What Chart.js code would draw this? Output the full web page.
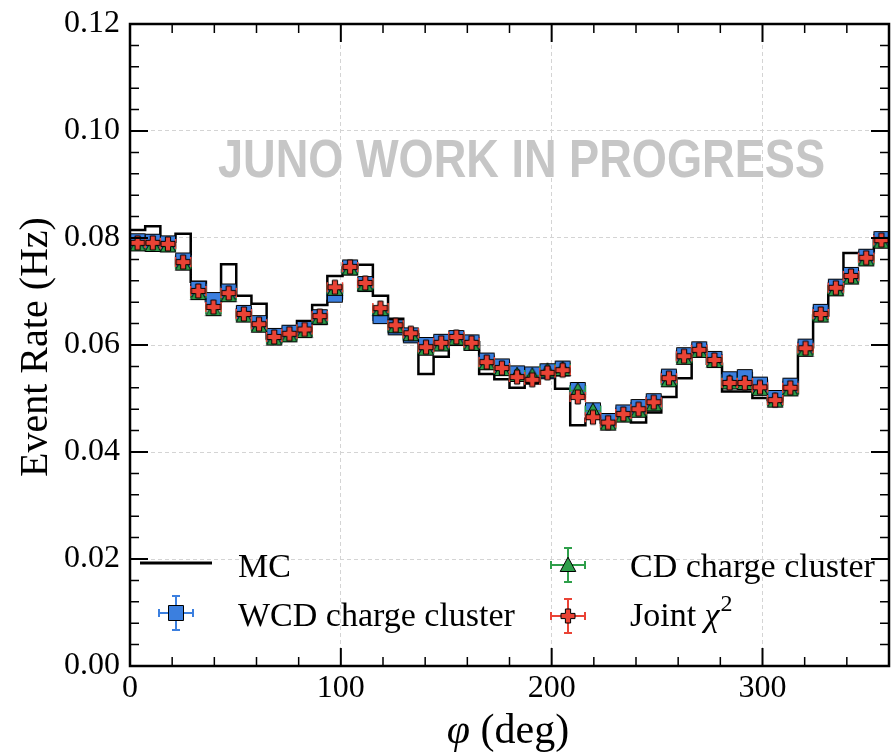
<!DOCTYPE html>
<html>
<head>
<meta charset="utf-8">
<script src="https://cdn.jsdelivr.net/npm/chart.js@4.4.1/dist/chart.umd.min.js"></script>
<style>
  html, body { margin: 0; padding: 0; background: #fff; }
  #rate { display: block; }
</style>
</head>
<body>
<canvas id="rate" width="891" height="753"></canvas>
<script>
// 50 phi bins of 7.2 deg over the full turn
const binWidth = 7.2;
const phiRange = [0, 360];
const rateRange = [0, 0.12];
const xTickStep = 100;
const yTickStep = 0.02;

// MC expectation per bin (step histogram)
const mcRate = [
  0.0815, 0.0822, 0.0793, 0.0808, 0.0718, 0.0682, 0.0751, 0.0692, 0.0677, 0.0612,
  0.0626, 0.0645, 0.0675, 0.0729, 0.0745, 0.0750, 0.0692, 0.0649, 0.0620, 0.0546,
  0.0578, 0.0610, 0.0605, 0.0546, 0.0536, 0.0520, 0.0528, 0.0544, 0.0518, 0.0450,
  0.0462, 0.0455, 0.0463, 0.0455, 0.0474, 0.0503, 0.0538, 0.0590, 0.0565, 0.0513,
  0.0513, 0.0501, 0.0497, 0.0510, 0.0596, 0.0655, 0.0710, 0.0772, 0.0772, 0.0797
];

// reconstructed rates
const wcdRate = [
  0.0794, 0.0793, 0.0790, 0.0758, 0.0705, 0.0684, 0.0700, 0.0660, 0.0641, 0.0617,
  0.0623, 0.0630, 0.0652, 0.0694, 0.0745, 0.0714, 0.0654, 0.0633, 0.0618, 0.0600,
  0.0606, 0.0613, 0.0605, 0.0571, 0.0560, 0.0547, 0.0545, 0.0551, 0.0556, 0.0516,
  0.0478, 0.0458, 0.0474, 0.0484, 0.0495, 0.0541, 0.0581, 0.0592, 0.0574, 0.0536,
  0.0540, 0.0526, 0.0501, 0.0524, 0.0597, 0.0662, 0.0709, 0.0731, 0.0765, 0.0798
];
const cdRate = [
  0.0788, 0.0787, 0.0786, 0.0752, 0.0697, 0.0667, 0.0693, 0.0655, 0.0636, 0.0612,
  0.0618, 0.0626, 0.0651, 0.0705, 0.0743, 0.0713, 0.0667, 0.0635, 0.0620, 0.0593,
  0.0601, 0.0612, 0.0602, 0.0566, 0.0555, 0.0544, 0.0543, 0.0552, 0.0555, 0.0515,
  0.0477, 0.0453, 0.0468, 0.0477, 0.0489, 0.0534, 0.0576, 0.0589, 0.0570, 0.0530,
  0.0529, 0.0518, 0.0496, 0.0517, 0.0591, 0.0655, 0.0704, 0.0726, 0.0760, 0.0793
];
const jointRate = [
  0.0791, 0.0791, 0.0789, 0.0755, 0.0701, 0.0671, 0.0697, 0.0658, 0.0639, 0.0615,
  0.0621, 0.0629, 0.0654, 0.0708, 0.0746, 0.0716, 0.0669, 0.0637, 0.0622, 0.0596,
  0.0604, 0.0615, 0.0604, 0.0568, 0.0557, 0.0540, 0.0535, 0.0548, 0.0553, 0.0503,
  0.0465, 0.0455, 0.0471, 0.0480, 0.0493, 0.0538, 0.0579, 0.0591, 0.0572, 0.0529,
  0.0529, 0.0521, 0.0497, 0.0520, 0.0594, 0.0658, 0.0707, 0.0729, 0.0763, 0.0796
];

const BLUE = '#3b7fdf';
const GREEN = '#2e9f4a';
const RED = '#ea4335';
const SERIF = '"Liberation Serif", "DejaVu Serif", serif';

// plot frame in canvas pixels
const AREA = { left: 130, right: 889, top: 24, bottom: 666 };

// bin edges and centres
const phiEdges = mcRate.map((_, i) => i * binWidth).concat([phiRange[1]]);
const phiCenters = mcRate.map((_, i) => (i + 0.5) * binWidth);

function toPoints(values) {
  return values.map((v, i) => ({ x: phiCenters[i], y: v }));
}

// small canvases used as point styles
function makeMarker(shape, fill) {
  const s = 18;
  const c = document.createElement('canvas');
  c.width = s; c.height = s;
  const g = c.getContext('2d');
  g.fillStyle = fill;
  g.strokeStyle = '#000';
  g.lineWidth = 1;
  g.lineJoin = 'miter';
  g.beginPath();
  if (shape === 'square') {
    g.rect(1.5, 1.5, 15, 15);
  } else if (shape === 'triangle') {
    g.moveTo(9, 1.2);
    g.lineTo(16.8, 15.5);
    g.lineTo(1.2, 15.5);
    g.closePath();
  } else {
    // filled plus
    const b = 7, w = 2.6, cx = 9, cy = 9;
    g.moveTo(cx - w, cy - b);
    g.lineTo(cx + w, cy - b);
    g.lineTo(cx + w, cy - w);
    g.lineTo(cx + b, cy - w);
    g.lineTo(cx + b, cy + w);
    g.lineTo(cx + w, cy + w);
    g.lineTo(cx + w, cy + b);
    g.lineTo(cx - w, cy + b);
    g.lineTo(cx - w, cy + w);
    g.lineTo(cx - b, cy + w);
    g.lineTo(cx - b, cy - w);
    g.lineTo(cx - w, cy - w);
    g.closePath();
  }
  g.fill();
  g.stroke();
  return c;
}

const squareMark = makeMarker('square', BLUE);
const triMark = makeMarker('triangle', GREEN);
const plusMark = makeMarker('plus', RED);

function markerSeries(label, values, color, mark, order) {
  return {
    label: label,
    data: toPoints(values),
    showLine: false,
    pointStyle: mark,
    pointRadius: 8,
    errColor: color,
    xErr: binWidth / 2,
    order: order
  };
}

// pin the plot frame after chart.js has laid out its boxes
const pinArea = {
  id: 'pinArea',
  afterLayout(chart) {
    const a = chart.chartArea;
    Object.assign(a, AREA);
    a.width = AREA.right - AREA.left;
    a.height = AREA.bottom - AREA.top;
    const { x, y } = chart.scales;
    x.left = AREA.left; x.right = AREA.right; x.width = a.width;
    x.top = AREA.bottom;
    y.top = AREA.top; y.bottom = AREA.bottom; y.height = a.height;
    x.configure();
    y.configure();
  }
};

// x error bars with caps, drawn just under each series' markers
const errorBars = {
  id: 'errorBars',
  beforeDatasetDraw(chart, args) {
    const ds = chart.data.datasets[args.index];
    if (!ds.xErr) return;
    const { ctx, scales: { x, y } } = chart;
    ctx.save();
    ctx.strokeStyle = ds.errColor;
    ctx.lineWidth = 1.5;
    ds.data.forEach(p => {
      const x0 = x.getPixelForValue(p.x - ds.xErr);
      const x1 = x.getPixelForValue(p.x + ds.xErr);
      const py = y.getPixelForValue(p.y);
      ctx.beginPath();
      ctx.moveTo(x0, py); ctx.lineTo(x1, py);
      ctx.moveTo(x0, py - 5); ctx.lineTo(x0, py + 5);
      ctx.moveTo(x1, py - 5); ctx.lineTo(x1, py + 5);
      ctx.stroke();
    });
    ctx.restore();
  }
};

const watermark = {
  id: 'watermark',
  beforeDatasetsDraw(chart) {
    const ctx = chart.ctx;
    const text = 'JUNO WORK IN PROGRESS';
    ctx.save();
    ctx.font = 'bold 54px "Liberation Sans", Arial, sans-serif';
    const w = ctx.measureText(text).width;
    ctx.translate(521.5, 177);
    ctx.scale(607 / w, 1);
    ctx.fillStyle = '#c6c6c6';
    ctx.textAlign = 'center';
    ctx.textBaseline = 'alphabetic';
    ctx.fillText(text, 0, 0);
    ctx.restore();
  }
};

// frame, inward ticks on all four sides, axis titles and the legend
const decorations = {
  id: 'decorations',
  afterDraw(chart) {
    const { ctx, chartArea: a, scales: { x, y } } = chart;
    ctx.save();
    ctx.strokeStyle = '#000';

    for (let i = 0; i <= 30; i++) {
      const py = y.getPixelForValue(i * 0.004);
      const major = i % 5 === 0;
      const len = major ? 18 : 9;
      ctx.lineWidth = major ? 2 : 1.5;
      ctx.beginPath();
      ctx.moveTo(a.left, py); ctx.lineTo(a.left + len, py);
      ctx.moveTo(a.right, py); ctx.lineTo(a.right - len, py);
      ctx.stroke();
    }
    for (let i = 0; i <= 18; i++) {
      const v = i * 20;
      const px = x.getPixelForValue(v);
      const major = v % xTickStep === 0;
      const len = major ? 18 : 9;
      ctx.lineWidth = major ? 2 : 1.5;
      ctx.beginPath();
      ctx.moveTo(px, a.bottom); ctx.lineTo(px, a.bottom - len);
      ctx.moveTo(px, a.top); ctx.lineTo(px, a.top + len);
      ctx.stroke();
    }
    ctx.lineWidth = 2.5;
    ctx.strokeRect(a.left, a.top, a.right - a.left, a.bottom - a.top);

    ctx.fillStyle = '#000';
    // y title
    ctx.save();
    ctx.translate(47, 347);
    ctx.rotate(-Math.PI / 2);
    ctx.font = '40px ' + SERIF;
    ctx.textAlign = 'center';
    ctx.textBaseline = 'alphabetic';
    ctx.fillText('Event Rate (Hz)', 0, 0);
    ctx.restore();

    // x title: italic phi followed by upright unit
    ctx.textBaseline = 'alphabetic';
    ctx.textAlign = 'left';
    const phiFont = 'italic 42px ' + SERIF;
    const unitFont = '42px ' + SERIF;
    ctx.font = phiFont;
    const wPhi = ctx.measureText('\u03c6').width;
    ctx.font = unitFont;
    const wUnit = ctx.measureText(' (deg)').width;
    const tx = 508 - (wPhi + wUnit) / 2;
    ctx.font = phiFont;
    ctx.fillText('\u03c6', tx, 743);
    ctx.font = unitFont;
    ctx.fillText(' (deg)', tx + wPhi, 743);

    // legend
    ctx.lineWidth = 3;
    ctx.beginPath();
    ctx.moveTo(140, 563); ctx.lineTo(212, 563);
    ctx.stroke();

    const legendMark = (cx, cy, color, mark) => {
      ctx.strokeStyle = color;
      ctx.lineWidth = 2;
      ctx.beginPath();
      ctx.moveTo(cx - 17, cy); ctx.lineTo(cx + 17, cy);
      ctx.moveTo(cx, cy - 17); ctx.lineTo(cx, cy + 17);
      ctx.moveTo(cx - 17, cy - 4); ctx.lineTo(cx - 17, cy + 4);
      ctx.moveTo(cx + 17, cy - 4); ctx.lineTo(cx + 17, cy + 4);
      ctx.moveTo(cx - 4, cy - 17); ctx.lineTo(cx + 4, cy - 17);
      ctx.moveTo(cx - 4, cy + 17); ctx.lineTo(cx + 4, cy + 17);
      ctx.stroke();
      ctx.drawImage(mark, cx - mark.width / 2, cy - mark.height / 2);
    };
    legendMark(176, 613, BLUE, squareMark);
    legendMark(568, 565, GREEN, triMark);
    legendMark(568, 616, RED, plusMark);

    ctx.fillStyle = '#000';
    ctx.font = '34px ' + SERIF;
    ctx.fillText('MC', 238, 577);
    ctx.fillText('WCD charge cluster', 238, 626);
    ctx.fillText('CD charge cluster', 630, 577);
    ctx.fillText('Joint ', 630, 626);
    let jx = 630 + ctx.measureText('Joint ').width;
    ctx.font = 'italic 34px ' + SERIF;
    ctx.fillText('\u03c7', jx, 626);
    jx += ctx.measureText('\u03c7').width + 1;
    ctx.font = '24px ' + SERIF;
    ctx.fillText('2', jx, 611);

    ctx.restore();
  }
};

const gridStyle = { color: '#d4d4d4', lineWidth: 1, drawTicks: false };

function fixBox(size, horizontal) {
  return s => {
    if (horizontal) s.height = size; else s.width = size;
    s.paddingTop = 0; s.paddingBottom = 0; s.paddingLeft = 0; s.paddingRight = 0;
  };
}

new Chart(document.getElementById('rate'), {
  type: 'scatter',
  data: {
    datasets: [
      {
        label: 'MC',
        data: phiEdges.map((e, i) => ({ x: e, y: mcRate[Math.min(i, mcRate.length - 1)] })),
        showLine: true,
        stepped: true,
        borderColor: '#000',
        borderWidth: 2.5,
        pointRadius: 0,
        fill: false,
        order: 4
      },
      markerSeries('WCD charge cluster', wcdRate, BLUE, squareMark, 3),
      markerSeries('CD charge cluster', cdRate, GREEN, triMark, 2),
      markerSeries('Joint \u03c7\u00b2', jointRate, RED, plusMark, 1)
    ]
  },
  options: {
    responsive: false,
    animation: false,
    events: [],
    layout: { padding: { top: 24, right: 2, left: 0, bottom: 0 } },
    plugins: { legend: { display: false }, tooltip: { enabled: false } },
    scales: {
      x: {
        type: 'linear',
        min: phiRange[0],
        max: phiRange[1],
        afterFit: fixBox(87, true),
        afterBuildTicks: s => { s.ticks = s.ticks.filter(t => t.value % xTickStep === 0); },
        ticks: { stepSize: xTickStep, color: '#000', padding: 3, maxRotation: 0, font: { family: SERIF, size: 32 } },
        grid: gridStyle,
        border: { display: false, dash: [4, 3] }
      },
      y: {
        type: 'linear',
        min: rateRange[0],
        max: rateRange[1],
        afterFit: fixBox(130, false),
        ticks: { stepSize: yTickStep, color: '#000', padding: 10, callback: v => v.toFixed(2), font: { family: SERIF, size: 32 } },
        grid: gridStyle,
        border: { display: false, dash: [4, 3] }
      }
    }
  },
  plugins: [pinArea, watermark, errorBars, decorations]
});
</script>
</body>
</html>
